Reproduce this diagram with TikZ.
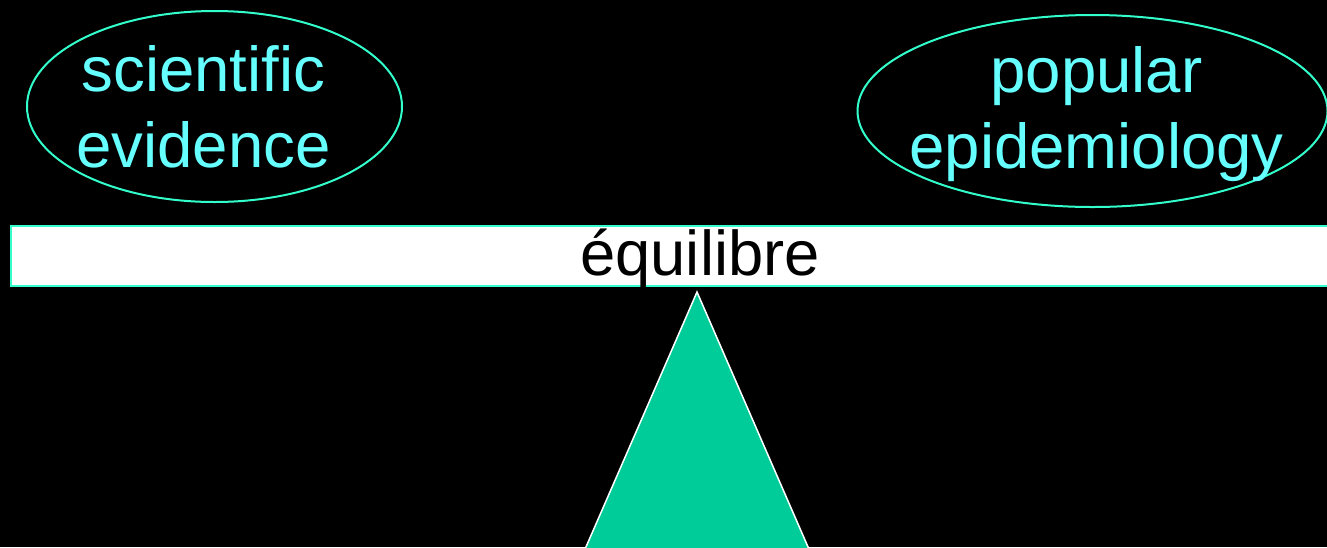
\documentclass[tikz,border=0pt]{standalone}
\usepackage{fontspec}
\setmainfont{Liberation Sans}
\usetikzlibrary{shapes.geometric}
\definecolor{bgblack}{RGB}{0,0,0}
\definecolor{outlineteal}{RGB}{51,255,204}
\definecolor{labelcyan}{RGB}{102,255,255}
\definecolor{fulcrumgreen}{RGB}{0,204,153}
\tikzset{
  bubble/.style={ellipse, draw=outlineteal, line width=2pt, inner sep=0pt},
  bubbletext/.style={text=labelcyan, align=center, inner sep=0pt, font=\fontsize{63.5}{76}\selectfont},
  beam/.style={draw=outlineteal, fill=white, line width=2.5pt},
  beamtext/.style={text=black, inner sep=0pt, font=\fontsize{63.3}{76}\selectfont},
  fulcrum/.style={fill=fulcrumgreen, draw=white, line width=1.5pt, line join=miter}
}
\begin{document}
\begin{tikzpicture}[x=1pt,y=-1pt]
\fill[bgblack] (0,0) rectangle (1327,547);
\useasboundingbox (0,0) rectangle (1327,547);
\clip (0,0) rectangle (1327,547);
% bubbles
\node[bubble, minimum width=375pt, minimum height=191pt] (sci) at (214.5,106.5) {};
\node[bubble, minimum width=470pt, minimum height=192pt] (pop) at (1092.5,111) {};
\node[bubbletext] (scitext) at (203.5,107) {scientific\\evidence};
\node[bubbletext] (poptext) at (1096.5,114.5) {popular\\epidemiology};
% beam
\draw[beam] (11,226) rectangle (1345,286);
\node[beamtext, anchor=base] (eq) at (700,275) {équilibre};
% fulcrum
\coordinate (apex) at (697,292);
\coordinate (bl) at (580.3,560);
\coordinate (br) at (813.7,560);
\draw[fulcrum] (apex) -- (bl) -- (br) -- cycle;
\end{tikzpicture}
\end{document}
